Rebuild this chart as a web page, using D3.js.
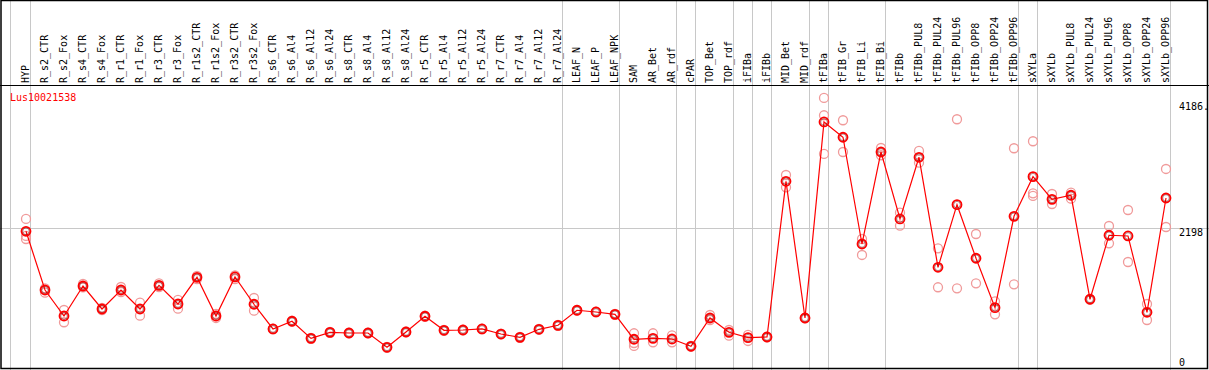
<!DOCTYPE html>
<html>
<head>
<meta charset="utf-8">
<script src="https://cdn.jsdelivr.net/npm/d3@7"></script>
<style>
  body { margin: 0; background: #fff; }
  svg { display: block; }
  text { font-family: "DejaVu Sans Mono", monospace; font-size: 10px; }
</style>
</head>
<body>
<svg class="vis" width="1209" height="370"></svg>
<script>
const gene = "Lus10021538";

const samples = ["HYP", "R_s2_CTR", "R_s2_Fox", "R_s4_CTR", "R_s4_Fox", "R_r1_CTR", "R_r1_Fox",
  "R_r3_CTR", "R_r3_Fox", "R_r1s2_CTR", "R_r1s2_Fox", "R_r3s2_CTR", "R_r3s2_Fox",
  "R_s6_CTR", "R_s6_Al4", "R_s6_Al12", "R_s6_Al24", "R_s8_CTR", "R_s8_Al4", "R_s8_Al12", "R_s8_Al24",
  "R_r5_CTR", "R_r5_Al4", "R_r5_Al12", "R_r5_Al24", "R_r7_CTR", "R_r7_Al4", "R_r7_Al12", "R_r7_Al24",
  "LEAF_N", "LEAF_P", "LEAF_NPK", "SAM", "AR_Bet", "AR_rdf", "cPAR", "TOP_Bet", "TOP_rdf",
  "iFIBa", "iFIBb", "MID_Bet", "MID_rdf", "tFIBa", "tFIB_Gr", "tFIB_Li", "tFIB_Bi", "tFIBb",
  "tFIBb_PUL8", "tFIBb_PUL24", "tFIBb_PUL96", "tFIBb_OPP8", "tFIBb_OPP24", "tFIBb_OPP96",
  "sXYLa", "sXYLb", "sXYLb_PUL8", "sXYLb_PUL24", "sXYLb_PUL96", "sXYLb_OPP8", "sXYLb_OPP24", "sXYLb_OPP96"];

// media por amostra
const meanValues = [2151, 1222, 810, 1285, 921, 1222, 921,
  1296, 1000, 1423, 810, 1428, 996,
  605, 727, 457, 552, 541, 541, 315, 557,
  806, 584, 589, 605, 525, 473, 600, 663,
  901, 874, 837, 442, 457, 446, 331, 779, 552,
  467, 478, 2942, 779, 3881, 3639, 1950, 3406, 2346,
  3322, 1581, 2572, 1724, 942, 2388,
  3015, 2657, 2721, 1075, 2088, 2077, 869, 2678];

// replicas (circulos claros)
const replicates = [[2346, 2077, 2029], [1249, 1179], [905, 711], [1317, 1265], [937, 905], [1269, 1190], [1021, 815],
  [1328, 1269], [1064, 926], [1444, 1396], [842, 779], [1451, 1396], [1095, 894],
  [612, 598], [735, 720], [465, 450], [560, 545], [548, 535], [548, 535], [322, 308], [565, 550],
  [815, 798], [592, 577], [596, 582], [612, 598], [532, 518], [480, 466], [607, 593], [670, 656],
  [908, 894], [881, 867], [844, 830], [537, 383, 336], [537, 394], [505, 394], [338, 324], [826, 747], [589, 499],
  [510, 415], [485, 471], [3042, 2847], [786, 772], [4261, 3987, 3375], [3908, 3406], [2029, 1776], [3469, 3354], [2445, 2240],
  [3422, 3237], [1882, 1265], [3924, 1249], [2108, 1328], [1043, 837], [3465, 1312],
  [3576, 2752, 2710], [2741, 2583], [2762, 2667], [1082, 1068], [2235, 1961], [2488, 1665], [1000, 747], [3137, 2219]];

// linhas cinzas depois destas amostras
const separatorsAfter = ["HYP", "R_r7_Al24", "LEAF_NPK", "AR_rdf", "cPAR", "TOP_rdf", "iFIBa", "iFIBb",
  "MID_rdf", "tFIBa", "tFIB_Bi", "tFIBb_OPP96", "sXYLa", "sXYLb_OPP96"];

const yTickValues = [0, 2198, 4186];
const yTickLabels = ["0", "2198", "4186."];
const gridValues = [2198];

const svg = d3.select("svg.vis");
const W = 1209, H = 370;
const headerY = 85.5;

const x = d3.scalePoint()
    .domain(samples)
    .range([26, 1166]);

const y = d3.scaleLinear()
    .domain([0, 4186])
    .range([367.2, 102.7]);

// linhas verticais cinzas
const sepX = [x(samples[0]) - 15.5].concat(separatorsAfter.map(s => x(s) + 4.5));
svg.selectAll("line.sep")
    .data(sepX)
  .enter().append("line")
    .attr("class", "sep")
    .attr("x1", d => d).attr("x2", d => d)
    .attr("y1", 0).attr("y2", H)
    .attr("stroke", "#c8c8c8")
    .attr("stroke-width", 1);

// grade horizontal
svg.selectAll("line.grid")
    .data(gridValues)
  .enter().append("line")
    .attr("class", "grid")
    .attr("x1", 0).attr("x2", W)
    .attr("y1", d => Math.round(y(d)) + 0.5)
    .attr("y2", d => Math.round(y(d)) + 0.5)
    .attr("stroke", "#c8c8c8");

// moldura
svg.append("rect")
    .attr("x", 1).attr("y", 0.5)
    .attr("width", 1206.5).attr("height", 368)
    .attr("fill", "none")
    .attr("stroke", "#000")
    .attr("stroke-width", 1.5);

svg.append("line")
    .attr("x1", 0).attr("x2", W)
    .attr("y1", headerY).attr("y2", headerY)
    .attr("stroke", "#000");

// rotulos das amostras
svg.selectAll("text.sample")
    .data(samples)
  .enter().append("text")
    .attr("class", "sample")
    .attr("transform", d => "translate(" + (x(d) + 2.5) + "," + 83 + ") rotate(-90)")
    .attr("fill", "#000")
    .text(d => d);

// nome do gene
svg.append("text")
    .attr("x", 10).attr("y", 101)
    .attr("fill", "#f00")
    .text(gene);

// eixo y a direita
svg.selectAll("text.ytick")
    .data(yTickValues)
  .enter().append("text")
    .attr("class", "ytick")
    .attr("x", 1179)
    .attr("y", d => Math.min(y(d), 359))
    .attr("dominant-baseline", "hanging")
    .attr("fill", "#000")
    .text((d, i) => yTickLabels[i]);

// replicas
const repPoints = [];
samples.forEach((s, i) => replicates[i].forEach(v => repPoints.push({ s: s, v: v })));

svg.selectAll("circle.rep")
    .data(repPoints)
  .enter().append("circle")
    .attr("class", "rep")
    .attr("cx", d => x(d.s))
    .attr("cy", d => y(d.v))
    .attr("r", 4.5)
    .attr("fill", "none")
    .attr("stroke", "#f09a9a")
    .attr("stroke-width", 1.3);

// linha das medias
const line = d3.line()
    .x((d, i) => x(samples[i]))
    .y(d => y(d));

svg.append("path")
    .datum(meanValues)
    .attr("d", line)
    .attr("fill", "none")
    .attr("stroke", "#f00")
    .attr("stroke-width", 1.2);

svg.selectAll("circle.mean")
    .data(meanValues)
  .enter().append("circle")
    .attr("class", "mean")
    .attr("cx", (d, i) => x(samples[i]))
    .attr("cy", d => y(d))
    .attr("r", 4.5)
    .attr("fill", "none")
    .attr("stroke", "#f00")
    .attr("stroke-width", 1.8);

svg.selectAll("circle.mean-in")
    .data(meanValues)
  .enter().append("circle")
    .attr("class", "mean-in")
    .attr("cx", (d, i) => x(samples[i]))
    .attr("cy", d => y(d))
    .attr("r", 3.3)
    .attr("fill", "none")
    .attr("stroke", "#600")
    .attr("stroke-width", 0.8)
    .attr("stroke-opacity", 0.6);
</script>
</body>
</html>
